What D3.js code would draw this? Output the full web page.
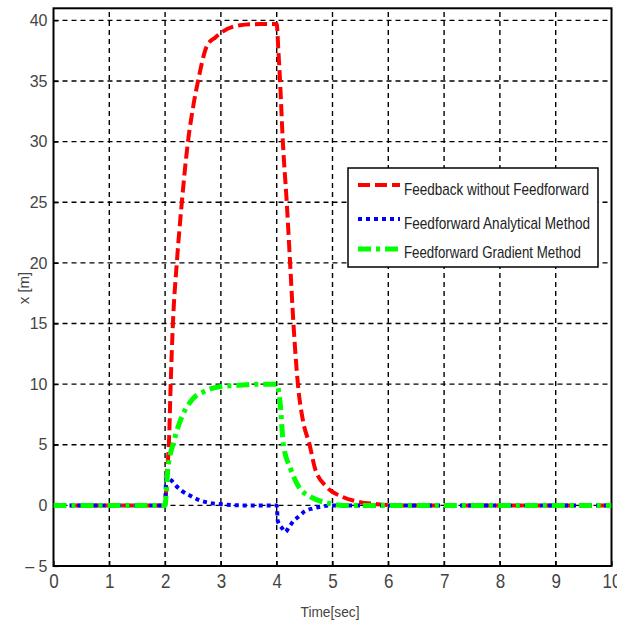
<!DOCTYPE html>
<html><head><meta charset="utf-8">
<script src="https://cdn.jsdelivr.net/npm/d3@7"></script>
<style>body{margin:0;background:#fff}svg{display:block}</style>
</head><body>
<svg id="c" width="617" height="624"></svg>
<script>
const xTicks = [0,1,2,3,4,5,6,7,8,9,10];
const yTicks = [-5,0,5,10,15,20,25,30,35,40];
const yTickLabels = ["\u2013 5","0","5","10","15","20","25","30","35","40"];
const seriesNames = ["Feedback without Feedforward","Feedforward Analytical Method","Feedforward Gradient Method"];

const timeRed = [0,2.0,2.03,2.07,2.1,2.14,2.21,2.3,2.41,2.5,2.59,2.75,2.9,3.04,3.34,3.7,4.0,4.03,4.06,4.11,4.18,4.24,4.3,4.38,4.47,4.59,4.69,4.9,5.18,5.46,5.8,6.2,10];
const valRed  = [0,0,2.5,5.3,10,15,20,25,30,32.8,35,37.9,38.6,39.1,39.6,39.7,39.7,37.5,35,30,25,20,15,10,7,5,3,1.5,0.7,0.3,0.1,0,0];

const timeBlue = [0,2.0,2.02,2.1,2.2,2.3,2.45,2.6,2.8,3.0,3.4,4.0,4.02,4.1,4.15,4.22,4.3,4.4,4.5,4.65,4.8,5.0,10];
const valBlue  = [0,0,2.3,2.1,1.6,1.2,0.8,0.45,0.2,0.1,0,0,-1.3,-1.9,-2.2,-1.8,-1.3,-0.9,-0.5,-0.25,-0.1,0,0];

const timeGreen = [0,2.0,2.02,2.05,2.14,2.2,2.3,2.5,2.7,3.0,3.3,3.7,4.0,4.06,4.12,4.25,4.4,4.61,4.9,5.2,10];
const valGreen  = [0,0,1,3,5,6,7.3,8.8,9.4,9.8,9.9,10,10,8.5,5,3,1.5,0.7,0.2,0,0];

const svg = d3.select("#c");
const x = d3.scaleLinear().domain([0,10]).range([53.5,611.5]);
const y = d3.scaleLinear().domain([-5,41]).range([566,8.3]);

// grid
const g = svg.append("g");
g.selectAll("line.vg").data(xTicks.slice(1,-1)).join("line")
  .attr("x1",d=>x(d)).attr("x2",d=>x(d)).attr("y1",y(-5)).attr("y2",y(41))
  .attr("stroke","#000").attr("stroke-width",1.4).attr("stroke-dasharray","5,4");
g.selectAll("line.hg").data(yTicks.slice(1)).join("line")
  .attr("y1",d=>y(d)).attr("y2",d=>y(d)).attr("x1",x(0)).attr("x2",x(10))
  .attr("stroke","#000").attr("stroke-width",1.4).attr("stroke-dasharray","5,4");

// axes via d3
const axB = svg.append("g").attr("transform",`translate(0,${y(-5)})`)
  .call(d3.axisBottom(x).tickValues(xTicks).tickSize(-5).tickPadding(9).tickFormat(d3.format("d")));
const axL = svg.append("g").attr("transform",`translate(${x(0)},0)`)
  .call(d3.axisLeft(y).tickValues(yTicks).tickSize(-5).tickPadding(6).tickFormat((d,i)=>yTickLabels[i]));
[axB,axL].forEach(a=>{
  a.select(".domain").remove();
  a.selectAll("line").attr("stroke","#000").attr("stroke-width",1.2);
  a.selectAll("text").attr("font-family","Liberation Sans, Arial, sans-serif").attr("font-size",16).attr("fill","#444");
});
axB.selectAll("text").attr("font-size",17).attr("transform","scale(1,1.2)").attr("dy","0.55em");
// box
svg.append("rect").attr("x",x(0)).attr("y",y(41)).attr("width",x(10)-x(0)).attr("height",y(-5)-y(41))
  .attr("fill","none").attr("stroke","#000").attr("stroke-width",2);

// lines
const line = d3.line().x(d=>x(d[0])).y(d=>y(d[1])).curve(d3.curveMonotoneX);
const series = [
  {t:timeRed, v:valRed, color:"#ff0000", w:4, dash:"12,5"},
  {t:timeBlue, v:valBlue, color:"#0000ff", w:4, dash:"4,4"},
  {t:timeGreen, v:valGreen, color:"#00ff00", w:5, dash:"13,5,4,5"}
];
const clip = svg.append("clipPath").attr("id","cp").append("rect")
  .attr("x",x(0)).attr("y",y(41)).attr("width",x(10)-x(0)).attr("height",y(-5)-y(41));
series.forEach(s=>{
  svg.append("path").datum(s.t.map((t,i)=>[t,s.v[i]]))
    .attr("d",line).attr("fill","none").attr("stroke",s.color).attr("stroke-width",s.w)
    .attr("stroke-dasharray",s.dash).attr("clip-path","url(#cp)");
});

// labels
svg.append("text").attr("x",330).attr("y",617).attr("text-anchor","middle")
  .attr("font-family","Liberation Sans, Arial, sans-serif").attr("font-size",15).attr("fill","#444")
  .attr("textLength",59).attr("lengthAdjust","spacingAndGlyphs").text("Time[sec]");
svg.append("text").attr("transform","translate(29,288) rotate(-90)").attr("text-anchor","middle")
  .attr("font-family","Liberation Sans, Arial, sans-serif").attr("font-size",15).attr("fill","#444")
  .text("x  [m]");

// legend
const lg = svg.append("g");
lg.append("rect").attr("x",348).attr("y",168).attr("width",250).attr("height",99)
  .attr("fill","#fff").attr("stroke","#000").attr("stroke-width",1.5);
const ly = [185,219,249];
const ty = [195,229,258];
const tl = [185,186,177];
series.forEach((s,i)=>{
  lg.append("line").attr("x1",358).attr("x2",400).attr("y1",ly[i]).attr("y2",ly[i])
    .attr("stroke",s.color).attr("stroke-width",s.w).attr("stroke-dasharray",s.dash);
  lg.append("text").attr("x",404).attr("y",ty[i]).attr("font-family","Liberation Sans, Arial, sans-serif")
    .attr("font-size",17).attr("fill","#222").attr("textLength",tl[i]).attr("lengthAdjust","spacingAndGlyphs")
    .text(seriesNames[i]);
});
</script>
</body></html>
